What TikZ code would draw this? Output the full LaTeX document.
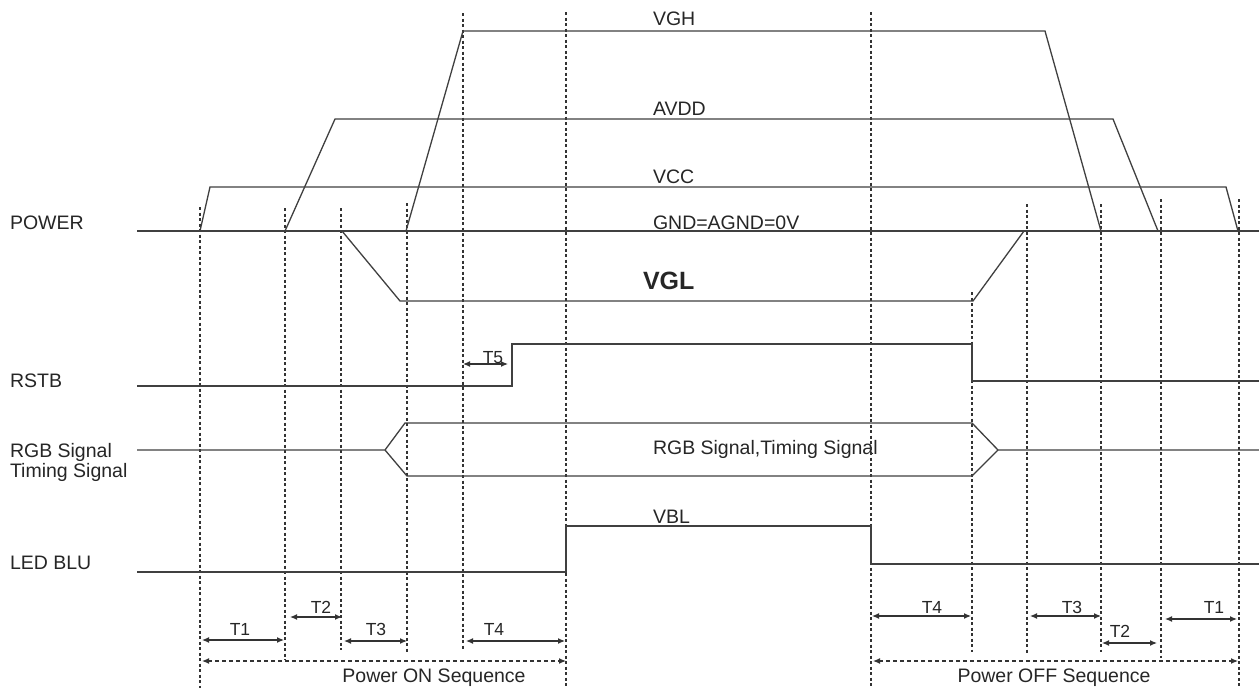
\documentclass[tikz,border=0pt]{standalone}
\usepackage{fontspec}
\setmainfont{Liberation Sans}
\usetikzlibrary{arrows.meta}

\begin{document}
\begin{tikzpicture}[x=1pt,y=-1pt,
  every node/.style={inner sep=0pt, outer sep=0pt, anchor=base west, text=black!85, font=\fontsize{19.5}{22}\selectfont},
  sig/.style={line width=1.3pt, black!75},
  guide/.style={line width=1.1pt, black!80, dash pattern=on 3pt off 2.5pt},
  tlabel/.style={anchor=base, font=\fontsize{17.5}{20}\selectfont},
  dim/.style={line width=1.2pt, black!80, {Latex[length=7pt,width=6pt]}-{Latex[length=7pt,width=6pt]}},
  seq/.style={dim, dash pattern=on 4pt off 3pt}]
\useasboundingbox[fill=white] (0,0) rectangle (1259,688);
% signal names
\node (power) at (10,229) {POWER};
\node (rstb) at (10,387) {RSTB};
\node (rgbsig) at (10,457) {RGB Signal};
\node (timsig) at (10,477) {Timing Signal};
\node (ledblu) at (10,569) {LED BLU};
% level names
\node (vgh) at (653,25) {VGH};
\node (avdd) at (653,115) {AVDD};
\node (vcc) at (653,183) {VCC};
\node (gnd) at (653,229) {GND=AGND=0V};
\node[font=\bfseries\fontsize{25}{28}\selectfont] (vgl) at (643,289) {VGL};
\node (rgbbus) at (653,454) {RGB Signal,Timing Signal};
\node (vbl) at (653,523) {VBL};
% guide lines
\foreach \gx/\gt/\gb in {200/207/688, 285/208/660, 341/208/650, 407/203/653, 463/13/650, 566/12/688,
  871/12/688, 972/292/652, 1027/204/653, 1101/204/652, 1161/199/658, 1239/199/688}
  \draw[guide] (\gx,\gt) -- (\gx,\gb);
% power rails
\draw[sig] (137,231) -- (1259,231);
\draw[sig] (200,231) -- (210,187) -- (1226,187) -- (1238,231);
\draw[sig] (285,231) -- (335,119) -- (1113,119) -- (1158,231);
\draw[sig] (406,231) -- (463,31) -- (1045,31) -- (1101,231);
\draw[sig] (342,231) -- (400,301) -- (973,301) -- (1024,231);
% RSTB
\draw[sig] (137,386) -- (512,386) -- (512,344) -- (972,344) -- (972,381) -- (1259,381);
% RGB bus
\draw[sig] (137,450) -- (385,450) -- (405,423) -- (972,423) -- (998,450) -- (1259,450);
\draw[sig] (385,450) -- (407,476) -- (972,476) -- (998,450);
% LED BLU
\draw[sig] (137,572) -- (566,572) -- (566,526) -- (871,526) -- (871,564) -- (1259,564);
% T5
\draw[dim] (463,364) -- (508,364);
\node[tlabel] (t5) at (493,363) {T5};
% power on
\draw[dim] (202,640) -- (284,640);
\node[tlabel] (t1on) at (240,635) {T1};
\draw[dim] (290,617) -- (342,617);
\node[tlabel] (t2on) at (321,613) {T2};
\draw[dim] (344,641) -- (407,641);
\node[tlabel] (t3on) at (376,635) {T3};
\draw[dim] (466,641) -- (565,641);
\node[tlabel] (t4on) at (494,635) {T4};
\draw[seq] (202,661) -- (566,661);
\node[anchor=base] (onseq) at (434,682) {Power ON Sequence};
% power off
\draw[dim] (872,616) -- (971,616);
\node[tlabel] (t4off) at (932,613) {T4};
\draw[dim] (1030,616) -- (1101,616);
\node[tlabel] (t3off) at (1072,613) {T3};
\draw[dim] (1102,643) -- (1157,643);
\node[tlabel] (t2off) at (1120,637) {T2};
\draw[dim] (1165,619) -- (1237,619);
\node[tlabel] (t1off) at (1214,613) {T1};
\draw[seq] (873,661) -- (1238,661);
\node[anchor=base] (offseq) at (1054,682) {Power OFF Sequence};
\end{tikzpicture}
\end{document}
